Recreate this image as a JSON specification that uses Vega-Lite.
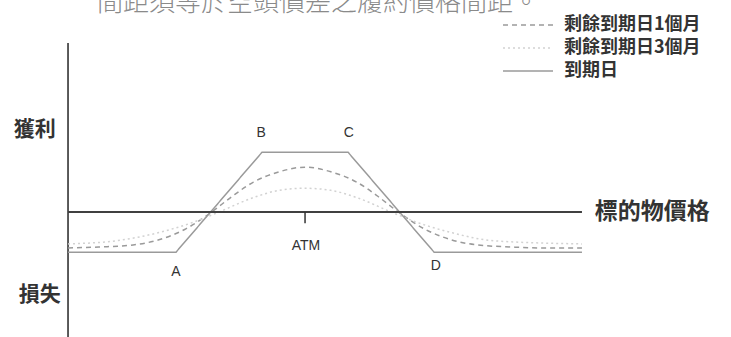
{
  "$schema": "https://vega.github.io/schema/vega-lite/v6.json",
  "width": 731,
  "height": 337,
  "autosize": {"type": "none"},
  "padding": 0,
  "background": "white",
  "config": {"view": {"stroke": null}, "font": "Noto Sans CJK TC"},
  "datasets": {
    "payoff": [
      {"series": "到期日", "price": 72.44, "profit": -3.9},
      {"series": "到期日", "price": 85, "profit": -3.9},
      {"series": "到期日", "price": 95, "profit": 5.8},
      {"series": "到期日", "price": 105, "profit": 5.8},
      {"series": "到期日", "price": 115, "profit": -3.9},
      {"series": "到期日", "price": 132.2, "profit": -3.9},
      {"series": "剩餘到期日1個月", "price": 72.44, "profit": -3.5},
      {"series": "剩餘到期日1個月", "price": 76, "profit": -3.4},
      {"series": "剩餘到期日1個月", "price": 80, "profit": -3.2},
      {"series": "剩餘到期日1個月", "price": 83, "profit": -2.7},
      {"series": "剩餘到期日1個月", "price": 86, "profit": -1.7},
      {"series": "剩餘到期日1個月", "price": 89, "profit": -0.1},
      {"series": "剩餘到期日1個月", "price": 91.5, "profit": 1.5},
      {"series": "剩餘到期日1個月", "price": 94, "profit": 2.9},
      {"series": "剩餘到期日1個月", "price": 97, "profit": 3.9},
      {"series": "剩餘到期日1個月", "price": 100, "profit": 4.35},
      {"series": "剩餘到期日1個月", "price": 103, "profit": 3.9},
      {"series": "剩餘到期日1個月", "price": 106, "profit": 2.9},
      {"series": "剩餘到期日1個月", "price": 108.5, "profit": 1.5},
      {"series": "剩餘到期日1個月", "price": 111, "profit": -0.1},
      {"series": "剩餘到期日1個月", "price": 114, "profit": -1.7},
      {"series": "剩餘到期日1個月", "price": 117, "profit": -2.7},
      {"series": "剩餘到期日1個月", "price": 120, "profit": -3.2},
      {"series": "剩餘到期日1個月", "price": 124, "profit": -3.4},
      {"series": "剩餘到期日1個月", "price": 128, "profit": -3.5},
      {"series": "剩餘到期日1個月", "price": 132.2, "profit": -3.5},
      {"series": "剩餘到期日3個月", "price": 72.44, "profit": -3.1},
      {"series": "剩餘到期日3個月", "price": 78, "profit": -2.8},
      {"series": "剩餘到期日3個月", "price": 83, "profit": -2.0},
      {"series": "剩餘到期日3個月", "price": 87, "profit": -1.0},
      {"series": "剩餘到期日3個月", "price": 90, "profit": 0.0},
      {"series": "剩餘到期日3個月", "price": 94, "profit": 1.4},
      {"series": "剩餘到期日3個月", "price": 97, "profit": 2.1},
      {"series": "剩餘到期日3個月", "price": 100, "profit": 2.3},
      {"series": "剩餘到期日3個月", "price": 103, "profit": 2.1},
      {"series": "剩餘到期日3個月", "price": 106, "profit": 1.4},
      {"series": "剩餘到期日3個月", "price": 110, "profit": 0.0},
      {"series": "剩餘到期日3個月", "price": 113, "profit": -1.0},
      {"series": "剩餘到期日3個月", "price": 117, "profit": -2.0},
      {"series": "剩餘到期日3個月", "price": 122, "profit": -2.8},
      {"series": "剩餘到期日3個月", "price": 132.2, "profit": -3.1}
    ],
    "vaxis": [{"price": 72.44, "top": 16.4, "bottom": -12.14}],
    "haxis": [{"left": 72.44, "right": 132.2, "profit": 0}],
    "atm": [{"price": 100, "profit": 0, "tickEnd": -1.1}],
    "pointLabels": [
      {"label": "A", "price": 85, "profit": -5.8},
      {"label": "B", "price": 94.9, "profit": 7.7},
      {"label": "C", "price": 105.1, "profit": 7.7},
      {"label": "D", "price": 115.2, "profit": -5.2},
      {"label": "ATM", "price": 100.1, "profit": -3.3}
    ],
    "sideLabels": [
      {"label": "獲利", "price": 71.0, "profit": 7.96},
      {"label": "損失", "price": 71.6, "profit": -8.06}
    ],
    "priceLabel": [{"label": "標的物價格", "price": 133.7, "profit": 0}],
    "note": [{"label": "間距須等於空頭價差之履約價格間距。"}]
  },
  "layer": [
    {
      "data": {"name": "vaxis"},
      "mark": {"type": "rule", "color": "#333333", "strokeWidth": 1.6},
      "encoding": {
        "x": {"field": "price", "type": "quantitative", "scale": {"domain": [64.53, 149.53], "nice": false, "zero": false}, "axis": null},
        "y": {"field": "top", "type": "quantitative", "scale": {"domain": [-12.14, 20.58], "nice": false, "zero": false}, "axis": null},
        "y2": {"field": "bottom"}
      }
    },
    {
      "data": {"name": "payoff"},
      "transform": [{"filter": "datum.series !== '到期日'"}],
      "mark": {"type": "line", "strokeWidth": 1.5, "interpolate": "monotone"},
      "encoding": {
        "x": {"field": "price", "type": "quantitative", "scale": {"domain": [64.53, 149.53], "nice": false, "zero": false}, "axis": null},
        "y": {"field": "profit", "type": "quantitative", "scale": {"domain": [-12.14, 20.58], "nice": false, "zero": false}, "axis": null},
        "color": {
          "field": "series", "type": "nominal",
          "scale": {"domain": ["剩餘到期日1個月", "剩餘到期日3個月", "到期日"], "range": ["#9a9a9a", "#d2d2d2", "#9a9a9a"]},
          "legend": {"title": null, "orient": "none", "legendX": 519, "legendY": 16, "padding": 0, "symbolType": "M-5,0H5", "symbolSize": 100, "symbolStrokeWidth": 1.5, "labelOffset": 27, "labelFont": "Noto Sans CJK TC", "labelFontSize": 18, "labelFontWeight": "bold", "labelColor": "#333333", "rowPadding": 5}
        },
        "strokeDash": {
          "field": "series", "type": "nominal",
          "scale": {"domain": ["剩餘到期日1個月", "剩餘到期日3個月", "到期日"], "range": [[5, 4], [2, 3], [1, 0]]},
          "legend": {"title": null, "orient": "none", "legendX": 519, "legendY": 16, "padding": 0, "symbolType": "M-5,0H5", "symbolSize": 100, "symbolStrokeWidth": 1.5, "labelOffset": 27, "labelFont": "Noto Sans CJK TC", "labelFontSize": 18, "labelFontWeight": "bold", "labelColor": "#333333", "rowPadding": 5}
        }
      }
    },
    {
      "data": {"name": "payoff"},
      "transform": [{"filter": "datum.series === '到期日'"}],
      "mark": {"type": "line", "strokeWidth": 1.5, "interpolate": "linear"},
      "encoding": {
        "x": {"field": "price", "type": "quantitative", "scale": {"domain": [64.53, 149.53], "nice": false, "zero": false}, "axis": null},
        "y": {"field": "profit", "type": "quantitative", "scale": {"domain": [-12.14, 20.58], "nice": false, "zero": false}, "axis": null},
        "color": {
          "field": "series", "type": "nominal",
          "scale": {"domain": ["剩餘到期日1個月", "剩餘到期日3個月", "到期日"], "range": ["#9a9a9a", "#d2d2d2", "#9a9a9a"]},
          "legend": {"title": null, "orient": "none", "legendX": 519, "legendY": 16, "padding": 0, "symbolType": "M-5,0H5", "symbolSize": 100, "symbolStrokeWidth": 1.5, "labelOffset": 27, "labelFont": "Noto Sans CJK TC", "labelFontSize": 18, "labelFontWeight": "bold", "labelColor": "#333333", "rowPadding": 5}
        },
        "strokeDash": {
          "field": "series", "type": "nominal",
          "scale": {"domain": ["剩餘到期日1個月", "剩餘到期日3個月", "到期日"], "range": [[5, 4], [2, 3], [1, 0]]},
          "legend": {"title": null, "orient": "none", "legendX": 519, "legendY": 16, "padding": 0, "symbolType": "M-5,0H5", "symbolSize": 100, "symbolStrokeWidth": 1.5, "labelOffset": 27, "labelFont": "Noto Sans CJK TC", "labelFontSize": 18, "labelFontWeight": "bold", "labelColor": "#333333", "rowPadding": 5}
        }
      }
    },
    {
      "data": {"name": "haxis"},
      "mark": {"type": "rule", "color": "#404040", "strokeWidth": 2},
      "encoding": {
        "x": {"field": "left", "type": "quantitative", "scale": {"domain": [64.53, 149.53], "nice": false, "zero": false}, "axis": null},
        "x2": {"field": "right"},
        "y": {"field": "profit", "type": "quantitative", "scale": {"domain": [-12.14, 20.58], "nice": false, "zero": false}, "axis": null}
      }
    },
    {
      "data": {"name": "atm"},
      "mark": {"type": "rule", "color": "#333333", "strokeWidth": 1.5},
      "encoding": {
        "x": {"field": "price", "type": "quantitative", "scale": {"domain": [64.53, 149.53], "nice": false, "zero": false}, "axis": null},
        "y": {"field": "profit", "type": "quantitative", "scale": {"domain": [-12.14, 20.58], "nice": false, "zero": false}, "axis": null},
        "y2": {"field": "tickEnd"}
      }
    },
    {
      "data": {"name": "pointLabels"},
      "mark": {"type": "text", "font": "Liberation Sans", "fontSize": 14, "color": "#333333", "align": "center", "baseline": "middle"},
      "encoding": {
        "x": {"field": "price", "type": "quantitative", "scale": {"domain": [64.53, 149.53], "nice": false, "zero": false}, "axis": null},
        "y": {"field": "profit", "type": "quantitative", "scale": {"domain": [-12.14, 20.58], "nice": false, "zero": false}, "axis": null},
        "text": {"field": "label"}
      }
    },
    {
      "data": {"name": "sideLabels"},
      "mark": {"type": "text", "font": "Noto Sans CJK TC", "fontSize": 21, "fontWeight": "bold", "color": "#333333", "align": "right", "baseline": "middle"},
      "encoding": {
        "x": {"field": "price", "type": "quantitative", "scale": {"domain": [64.53, 149.53], "nice": false, "zero": false}, "axis": null},
        "y": {"field": "profit", "type": "quantitative", "scale": {"domain": [-12.14, 20.58], "nice": false, "zero": false}, "axis": null},
        "text": {"field": "label"}
      }
    },
    {
      "data": {"name": "priceLabel"},
      "mark": {"type": "text", "font": "Noto Sans CJK TC", "fontSize": 23, "fontWeight": "bold", "color": "#333333", "align": "left", "baseline": "middle"},
      "encoding": {
        "x": {"field": "price", "type": "quantitative", "scale": {"domain": [64.53, 149.53], "nice": false, "zero": false}, "axis": null},
        "y": {"field": "profit", "type": "quantitative", "scale": {"domain": [-12.14, 20.58], "nice": false, "zero": false}, "axis": null},
        "text": {"field": "label"}
      }
    },
    {
      "data": {"name": "note"},
      "mark": {"type": "text", "font": "Noto Sans CJK TC", "fontSize": 26, "fontWeight": 300, "color": "#8a8a8a", "align": "left", "baseline": "bottom"},
      "encoding": {
        "x": {"datum": 75.8, "type": "quantitative", "scale": {"domain": [64.53, 149.53], "nice": false, "zero": false}, "axis": null},
        "y": {"datum": 19.0, "type": "quantitative", "scale": {"domain": [-12.14, 20.58], "nice": false, "zero": false}, "axis": null},
        "text": {"field": "label"}
      }
    }
  ]
}
